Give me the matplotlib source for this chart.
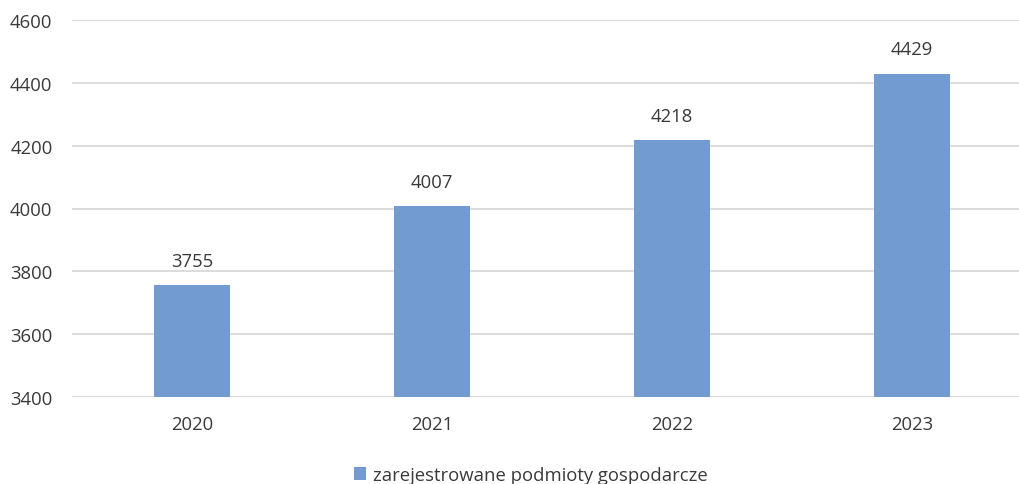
import matplotlib
matplotlib.use("Agg")
from matplotlib import pyplot as plt

# Dane
years = ["2020", "2021", "2022", "2023"]
firms = [3755, 4007, 4218, 4429]
series_name = "zarejestrowane podmioty gospodarcze"

bar_color = "#729BD2"
text_color = "#3A3A3A"
fs = 13.3

plt.rcParams["font.family"] = ["Open Sans", "DejaVu Sans"]

fig = plt.figure(figsize=(10.2, 4.85), dpi=100)
# os wychodzi poza prawą krawędź, tak jak na oryginale
ax = fig.add_axes([72 / 1020, 1 - 398 / 485, 960 / 1020, 377 / 485])

x = range(len(years))
bars = ax.bar(x, firms, width=0.315, color=bar_color, label=series_name, zorder=3)

for xi, v in zip(x, firms):
    ax.annotate(str(v), (xi, v), xytext=(0, 11), textcoords="offset points",
                ha="center", va="bottom", fontsize=fs, color=text_color)

ax.set_xlim(-0.5, len(years) - 0.5)
ax.set_ylim(3400, 4600)
ax.set_yticks(range(3400, 4601, 200))
ax.set_xticks(list(x))
ax.set_xticklabels(years)

ax.grid(axis="y", color="#D9D9D9", linewidth=1.3, zorder=0)
ax.set_axisbelow(True)
for s in ax.spines.values():
    s.set_visible(False)
ax.tick_params(length=0, labelsize=fs, labelcolor=text_color)
ax.tick_params(axis="y", pad=14)
ax.tick_params(axis="x", pad=13)

fig.legend(handles=[bars], labels=[series_name], loc="center",
           bbox_to_anchor=(531 / 1020, 1 - 476 / 485), frameon=False,
           fontsize=fs, labelcolor=text_color, handlelength=0.65,
           handleheight=0.65, handletextpad=0.35)

plt.savefig("out.png", dpi=100)
